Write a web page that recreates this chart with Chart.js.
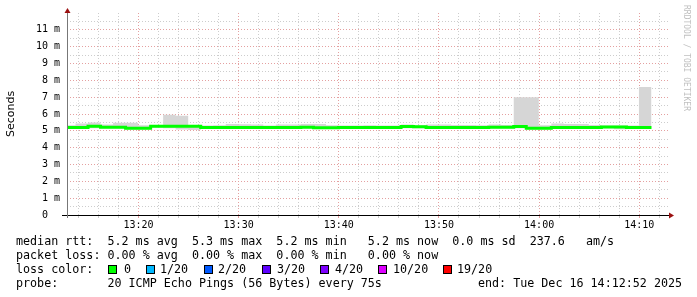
<!DOCTYPE html>
<html>
<head>
<meta charset="utf-8">
<script src="https://cdn.jsdelivr.net/npm/chart.js@4/dist/chart.umd.min.js"></script>
<style>
  body { margin: 0; background: #fff; }
  #wrap { position: relative; width: 697px; height: 297px; overflow: hidden; }
  canvas { position: absolute; left: 0; top: 0; }
  .row { position: absolute; left: 16px; margin: 0; font-family: "DejaVu Sans Mono", monospace; font-size: 11.7px; line-height: 14px; color: #000; white-space: pre; }
  .sq { position: absolute; width: 7px; height: 7px; border: 1px solid #000; }
  .lab { position: absolute; font-family: "DejaVu Sans Mono", monospace; font-size: 11.7px; line-height: 14px; white-space: pre; }
  #credit { position: absolute; left: 682px; top: 5px; writing-mode: vertical-rl; font-family: "DejaVu Sans Mono", monospace; font-size: 8px; color: #c0c0c0; white-space: pre; }
</style>
</head>
<body>
<div id="wrap">
  <canvas id="ping" width="697" height="297"></canvas>
  <div id="credit">RRDTOOL / TOBI OETIKER</div>
  <div class="row" style="top:234px">median rtt:  5.2 ms avg  5.3 ms max  5.2 ms min   5.2 ms now  0.0 ms sd  237.6   am/s</div>
  <div class="row" style="top:248px">packet loss: 0.00 % avg  0.00 % max  0.00 % min   0.00 % now</div>
  <div class="row" style="top:262px">loss color:</div>
  <div id="losskey"></div>
  <div class="row" style="top:276px">probe:       20 ICMP Echo Pings (56 Bytes) every 75s</div>
  <div class="row" style="top:276px; left:478px">end: Tue Dec 16 14:12:52 2025</div>
</div>
<script>
(function () {

    // sample grid: one step every 75 s, first step starts 13:12:28
    var stepStart = 13 * 3600 + 12 * 60 + 28;
    var stepSec = 75;
    var viewStart = 13 * 3600 + 12 * 60 + 52;
    var viewEnd = 14 * 3600 + 12 * 60 + 52;

    // median rtt per step (ms)
    var median = [5.2, 5.2, 5.27, 5.21, 5.21, 5.16, 5.16, 5.27, 5.27, 5.27,
                  5.27, 5.2, 5.2, 5.2, 5.2, 5.2, 5.2, 5.2, 5.2, 5.21,
                  5.18, 5.18, 5.2, 5.2, 5.2, 5.2, 5.2, 5.26, 5.24, 5.2,
                  5.2, 5.2, 5.2, 5.2, 5.21, 5.21, 5.26, 5.16, 5.16, 5.2,
                  5.2, 5.2, 5.2, 5.23, 5.23, 5.2, 5.2];
    // smoke low / high per step (ms)
    var smokeLow = [5.12, 5.12, 5.15, 5.15, 5.15, 5.1, 5.1, 5.2, 5.15, 5.08,
                    5.05, 5.15, 5.15, 5.15, 5.15, 5.15, 5.17, 5.15, 5.15, 5.15,
                    5.12, 5.12, 5.17, 5.17, 5.17, 5.17, 5.17, 5.15, 5.15, 5.12,
                    5.12, 5.15, 5.15, 5.15, 5.15, 5.15, 5.15, 5.1, 5.1, 5.12,
                    5.12, 5.15, 5.15, 5.15, 5.1, 5.15, 5.15];
    var smokeHigh = [5.33, 5.43, 5.5, 5.37, 5.48, 5.48, 5.33, 5.35, 5.95, 5.9,
                     5.33, 5.32, 5.33, 5.4, 5.39, 5.37, 5.32, 5.37, 5.38, 5.4,
                     5.4, 5.33, 5.31, 5.32, 5.33, 5.32, 5.32, 5.37, 5.33, 5.38,
                     5.38, 5.35, 5.35, 5.33, 5.37, 5.35, 7.0, 7.0, 5.33, 5.43,
                     5.41, 5.41, 5.35, 5.32, 5.32, 5.31, 7.6];

    var lossLabels = ["0", "1/20", "2/20", "3/20", "4/20", "10/20", "19/20"];
    var lossColors = ["#00ff00", "#00b8ff", "#0059ff", "#5e00ff", "#7e00ff", "#dd00ff", "#ff0000"];
    var lossSquareX = [108, 146, 204, 262, 320, 378, 443];
    var lossLabelX = [124, 160, 218, 277, 335, 393, 457];

    var key = document.getElementById("losskey");
    lossLabels.forEach(function (t, i) {
        var s = document.createElement("div");
        s.className = "sq";
        s.style.left = lossSquareX[i] + "px";
        s.style.top = "265px";
        s.style.background = lossColors[i];
        key.appendChild(s);
        var l = document.createElement("div");
        l.className = "lab";
        l.style.left = lossLabelX[i] + "px";
        l.style.top = "262px";
        l.textContent = t;
        key.appendChild(l);
    });

    // each value holds from its step start to the next one
    function stepped(values) {
        var pts = values.map(function (v, i) { return { x: stepStart + i * stepSec, y: v }; });
        pts.push({ x: stepStart + values.length * stepSec, y: values[values.length - 1] });
        return pts;
    }

    function hhmm(s) {
        var h = Math.floor(s / 3600), m = Math.floor((s % 3600) / 60);
        return h + ":" + (m < 10 ? "0" : "") + m;
    }

    var arrows = {
        id: "arrows",
        afterDraw: function (chart) {
            var a = chart.chartArea, ctx = chart.ctx;
            ctx.save();
            ctx.strokeStyle = "#000";
            ctx.lineWidth = 1;
            ctx.beginPath();
            ctx.moveTo(a.left - 5, a.bottom + 0.5);
            ctx.lineTo(a.right + 2, a.bottom + 0.5);
            ctx.stroke();
            ctx.strokeStyle = "#777";
            ctx.beginPath();
            ctx.moveTo(a.left + 0.5, a.bottom + 3);
            ctx.lineTo(a.left + 0.5, a.top - 2);
            ctx.stroke();
            ctx.fillStyle = "#9b1010";
            ctx.beginPath();
            ctx.moveTo(a.left + 0.5, a.top - 5);
            ctx.lineTo(a.left - 2.5, a.top);
            ctx.lineTo(a.left + 3.5, a.top);
            ctx.closePath();
            ctx.fill();
            ctx.beginPath();
            ctx.moveTo(a.right + 6, a.bottom + 0.5);
            ctx.lineTo(a.right + 1, a.bottom - 2.5);
            ctx.lineTo(a.right + 1, a.bottom + 3.5);
            ctx.closePath();
            ctx.fill();
            ctx.restore();
        }
    };

    var tickFont = { family: "DejaVu Sans Mono", size: 10 };
    var major = "#e4a0a0", minor = "#cdcdcd";

    new Chart(document.getElementById("ping").getContext("2d"), {
        type: "line",
        data: {
            datasets: [{
                    data: stepped(smokeLow),
                    stepped: "before",
                    borderWidth: 0,
                    pointRadius: 0,
                    fill: false,
                    order: 2
                },
                {
                    data: stepped(smokeHigh),
                    stepped: "before",
                    borderWidth: 0,
                    pointRadius: 0,
                    fill: "-1",
                    backgroundColor: "#d6d6d6",
                    order: 1
                },
                {
                    data: stepped(median),
                    stepped: "before",
                    borderWidth: 3,
                    borderColor: "#00ff00",
                    pointRadius: 0,
                    fill: false,
                    order: 0
                }
            ]
        },
        options: {
            responsive: false,
            animation: false,
            layout: { padding: { top: 13, right: 29, left: 0, bottom: 0 } },
            plugins: { legend: { display: false }, tooltip: { enabled: false } },
            scales: {
                x: {
                    type: "linear",
                    min: viewStart,
                    max: viewEnd,
                    afterBuildTicks: function (scale) {
                        var t = [];
                        for (var s = 13 * 3600 + 14 * 60; s < viewEnd; s += 120) t.push({ value: s });
                        scale.ticks = t;
                    },
                    afterFit: function (scale) { scale.height = 82; },
                    ticks: {
                        autoSkip: false,
                        maxRotation: 0,
                        padding: 1,
                        color: "#000",
                        font: tickFont,
                        callback: function (v) { return v % 600 === 0 ? hhmm(v) : ""; }
                    },
                    grid: {
                        tickLength: 3,
                        color: function (c) { return c.tick && c.tick.value % 600 === 0 ? major : minor; },
                        tickColor: function (c) { return c.tick && c.tick.value % 600 === 0 ? major : minor; }
                    },
                    border: { display: false, dash: [1, 2] }
                },
                y: {
                    min: 0,
                    max: 12,
                    afterBuildTicks: function (scale) {
                        var t = [];
                        for (var v = 0.5; v < 12; v += 0.5) t.push({ value: v });
                        t.unshift({ value: 0 });
                        scale.ticks = t;
                    },
                    afterFit: function (scale) { scale.width = 67; },
                    ticks: {
                        autoSkip: false,
                        padding: 7,
                        color: "#000",
                        font: tickFont,
                        callback: function (v) {
                            if (v === 0) return "0  ";
                            return v % 1 === 0 ? v + " m" : "";
                        }
                    },
                    grid: {
                        drawTicks: false,
                        color: function (c) { return c.tick && c.tick.value % 1 === 0 ? major : minor; }
                    },
                    border: { display: false, dash: [1, 2] },
                    title: {
                        display: true,
                        text: "Seconds",
                        color: "#000",
                        font: { family: "DejaVu Sans", size: 11 },
                        padding: { top: 5, bottom: 0 }
                    }
                }
            }
        },
        plugins: [arrows]
    });

})();
</script>
</body>
</html>
